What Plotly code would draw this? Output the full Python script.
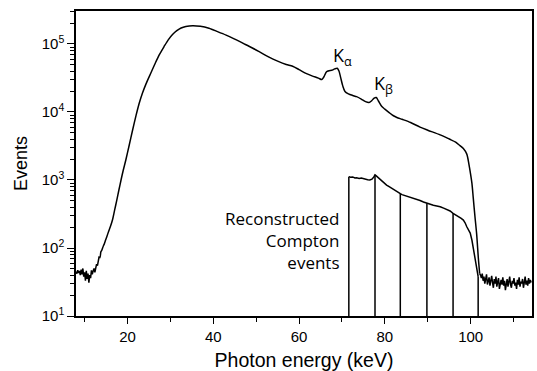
import plotly.graph_objects as go

# ---------------- data ----------------
# low-energy noisy floor (bins every 0.2 keV starting at 8.0 keV)
low_start, low_step = 8.0, 0.2
low_counts = [45, 42, 47, 43, 46, 40, 48, 41, 50, 38, 44, 33, 46, 35, 42, 31,
              40, 36, 47, 41, 46, 50, 44, 52, 58, 55, 68]

# smooth part of the full spectrum (energy keV, events)
main_energy = [13.4, 13.6, 13.8, 14.0, 14.2, 14.4, 14.6, 14.9, 15.2, 15.6, 16.0,
               16.5, 17.0, 17.5, 18.0, 18.5, 19.0, 19.6, 20.4, 21.2, 22.0, 22.7,
               23.5, 24.3, 25.5, 26.5, 27.4, 28.5, 29.5, 30.5, 31.5, 32.5, 33.6,
               35.2, 37.0, 39.0, 41.0, 43.0, 45.0, 47.0, 49.0, 50.7, 53.0, 55.0,
               57.0, 58.5, 60.0, 61.6, 63.0, 64.5, 65.3, 65.8, 66.4, 67.0, 67.6,
               68.3, 68.9, 69.3, 69.7, 70.2, 70.7, 71.5, 72.5, 73.4, 74.5, 75.5,
               76.3, 76.9, 77.5, 78.0, 78.5, 79.3, 80.0, 81.0, 82.0, 82.8, 84.0,
               86.0, 88.2, 90.0, 92.9, 95.0, 96.5, 97.5, 98.3, 99.1, 99.6, 100.0,
               100.3, 100.6, 101.0, 101.4, 101.8, 102.1]
main_counts = [75, 72, 88, 92, 100, 108, 115, 131, 148, 175, 205,
               258, 360, 500, 712, 1000, 1380, 1950, 3240, 5430, 8900, 13200,
               19000, 25700, 38000, 52500, 69000, 91000, 115000, 138000, 157000, 172000, 181000,
               186000, 182000, 170000, 152000, 135000, 118000, 102000, 88000, 77000, 64000, 56000,
               50000, 47000, 42000, 37000, 34000, 31500, 30000, 33000, 39000, 40500, 41000,
               43000, 44000, 40000, 32000, 24000, 20000, 18500, 17500, 16800, 15500, 14200,
               13800, 14600, 16000, 16300, 14500, 12000, 11000, 9800, 8800, 8300, 7800,
               7000, 6000, 5400, 4600, 4000, 3600, 3200, 2900, 2400, 1700, 1200,
               890, 550, 290, 160, 70, 42]

# high-energy noisy floor (bins every 0.2 keV starting at 102.3 keV)
high_start, high_step = 102.3, 0.2
high_counts = [40, 36, 42, 33, 38, 30, 35, 41, 29, 34, 37, 28, 33, 39, 31, 26,
               35, 30, 38, 27, 32, 36, 25, 31, 34, 29, 37, 28, 33, 24, 30, 35,
               27, 32, 38, 29, 26, 33, 30, 36, 28, 31, 25, 34, 29, 37, 27, 32,
               30, 35, 26, 31, 38, 29, 33, 28, 36, 30, 34, 31]

# reconstructed Compton events
compton_energy = [71.6, 72.0, 72.5, 73.0, 73.4, 74.0, 74.5, 75.0, 75.5, 76.0, 76.5,
                  77.0, 77.4, 77.7, 78.0, 78.4, 78.8, 79.3, 79.8, 80.4, 81.0, 81.5,
                  82.0, 82.5, 83.0, 83.6, 84.0, 84.6, 85.2, 85.8, 86.6, 87.4, 88.2,
                  89.0, 89.8, 90.6, 91.3, 92.1, 92.9, 93.7, 94.5, 95.2, 95.9, 96.6,
                  97.2, 97.8, 98.3, 98.7, 99.1, 99.5, 99.9, 100.3, 100.7, 101.0,
                  101.4, 101.75]
compton_counts = [1120, 1095, 1110, 1070, 1080, 1050, 1065, 1040, 1035, 1010, 1000,
                  1030, 1100, 1190, 1150, 1090, 1020, 950, 900, 843, 800, 760,
                  720, 690, 660, 630, 610, 595, 575, 560, 535, 520, 500,
                  475, 454, 440, 425, 415, 405, 385, 370, 350, 323, 305,
                  290, 272, 257, 235, 205, 185, 166, 130, 95, 75,
                  50, 38]
# energy windows (dividers) of the Compton spectrum
divider_energy = [71.6, 77.7, 83.6, 89.8, 95.9, 101.75]

x_ticks = [20, 40, 60, 80, 100]
y_ticks = [1e1, 1e2, 1e3, 1e4, 1e5]
y_ticktext = ["10<sup>1</sup>", "10<sup>2</sup>", "10<sup>3</sup>", "10<sup>4</sup>", "10<sup>5</sup>"]

# ---------------- build traces ----------------
low_energy = [round(low_start + i * low_step, 2) for i in range(len(low_counts))]
high_energy = [round(high_start + i * high_step, 2) for i in range(len(high_counts))]

lookup = dict(zip(compton_energy, compton_counts))
y_floor = 10
LINE = dict(color="black", width=1.5)
AX_FONT = "Liberation Sans"

fig = go.Figure()
fig.add_trace(go.Scatter(x=low_energy + [main_energy[0]], y=low_counts + [main_counts[0]],
                         mode="lines", line=LINE, showlegend=False))
fig.add_trace(go.Scatter(x=main_energy, y=main_counts, mode="lines",
                         line=dict(color="black", width=1.5, shape="spline", smoothing=0.8),
                         showlegend=False))
fig.add_trace(go.Scatter(x=[main_energy[-1]] + high_energy, y=[main_counts[-1]] + high_counts,
                         mode="lines", line=LINE, showlegend=False))
fig.add_trace(go.Scatter(x=compton_energy, y=compton_counts, mode="lines",
                         line=LINE, showlegend=False))
for e in divider_energy:
    fig.add_trace(go.Scatter(x=[e, e], y=[y_floor, lookup[e]], mode="lines",
                             line=LINE, showlegend=False))

minor_y = [m * 10 ** k for k in range(1, 6) for m in range(2, 10)]

fig.update_layout(
    width=537, height=371,
    margin=dict(l=76, r=5, t=11, b=55),
    paper_bgcolor="white", plot_bgcolor="white",
    font=dict(family=AX_FONT, color="black", size=15),
    xaxis=dict(range=[8, 114.3], tickmode="array", tickvals=x_ticks, automargin=False,
               ticks="outside", ticklen=6, tickwidth=1.3, tickcolor="black",
               showline=True, linecolor="black", linewidth=1.5, mirror=True,
               showgrid=False, zeroline=False,
               tickfont=dict(family=AX_FONT, size=15, color="black"),
               minor=dict(dtick=10, tick0=0, ticks="outside", ticklen=4, tickwidth=1.3,
                          tickcolor="black", showgrid=False),
               title=dict(text="Photon energy (keV)",
                          font=dict(family=AX_FONT, size=19.5, color="black"), standoff=11)),
    yaxis=dict(type="log", range=[1, 5.485], tickmode="array", tickvals=y_ticks,
               ticktext=y_ticktext, automargin=False,
               ticks="outside", ticklen=7, tickwidth=1.3, tickcolor="black",
               showline=True, linecolor="black", linewidth=1.5, mirror=True,
               showgrid=False, zeroline=False,
               tickfont=dict(family=AX_FONT, size=15, color="black"),
               minor=dict(tickmode="array", tickvals=minor_y, ticks="outside", ticklen=4,
                          tickwidth=1.3, tickcolor="black", showgrid=False),
               title=dict(text="Events", font=dict(family=AX_FONT, size=18, color="black"),
                          standoff=9)),
)

fig.add_annotation(x=69.9, y=2.107, xref="x", yref="y", xanchor="right", yanchor="middle",
                   text="Reconstructed<br>Compton<br>events", align="right", showarrow=False,
                   font=dict(family="Open Sans", size=17, color="black"))
fig.add_annotation(x=67.4, y=4.81, xref="x", yref="y", xanchor="left", yanchor="middle",
                   text="K<sub>α</sub>", showarrow=False,
                   font=dict(family="Open Sans", size=18, color="black"))
fig.add_annotation(x=77.0, y=4.40, xref="x", yref="y", xanchor="left", yanchor="middle",
                   text="K<sub>β</sub>", showarrow=False,
                   font=dict(family="Open Sans", size=18, color="black"))

fig.write_html("out.html")
